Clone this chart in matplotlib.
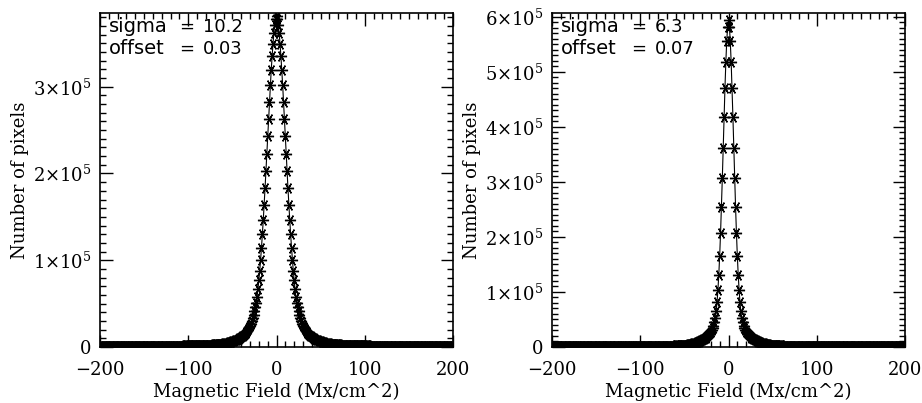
import numpy as np
import matplotlib
matplotlib.use("Agg")
import matplotlib.pyplot as plt
from matplotlib.ticker import MultipleLocator, FuncFormatter

# ---------------- data (counts in thousands of pixels) ----------------
field = np.arange(-200, 201)          # Magnetic field bins (Mx/cm^2)

# panel 1: counts for |B| = 0 .. 200
left_half = [
    382.0, 377.8, 371.0, 361.5, 349.5, 335.3, 319.2, 301.5, 282.6, 262.9,
    242.7, 222.4, 202.4, 182.8, 164.2, 146.3, 129.8, 114.5, 100.6, 87.9,
    76.7, 66.7, 58.0, 51.0, 46.0, 41.0, 37.0, 33.0, 30.0, 27.0,
    24.5, 22.5, 20.5, 19.0, 17.5, 16.2, 15.0, 14.0, 13.0, 12.2,
    11.4, 10.7, 10.1, 9.5, 9.0, 8.5, 8.0, 7.6, 7.2, 6.8,
    6.5, 6.1, 5.8, 5.5, 5.2, 5.0, 4.7, 4.5, 4.3, 4.1,
    3.9, 3.8, 3.7, 3.6, 3.5, 3.4, 3.3, 3.2, 3.1, 3.0,
    2.9, 2.9, 2.8, 2.8, 2.7, 2.7, 2.6, 2.6, 2.5, 2.5,
    2.4, 2.4, 2.4, 2.3, 2.3, 2.3, 2.2, 2.2, 2.2, 2.1,
    2.1, 2.1, 2.0, 2.0, 2.0, 2.0, 1.9, 1.9, 1.9, 1.9,
    1.8, 1.8, 1.8, 1.8, 1.8, 1.7, 1.7, 1.7, 1.7, 1.7,
    1.7, 1.7, 1.7, 1.6, 1.6, 1.6, 1.6, 1.6, 1.6, 1.6,
    1.6, 1.6, 1.5, 1.5, 1.5, 1.5, 1.5, 1.5, 1.5, 1.5,
    1.5, 1.5, 1.4, 1.4, 1.4, 1.4, 1.4, 1.4, 1.4, 1.4,
    1.4, 1.4, 1.4, 1.3, 1.3, 1.3, 1.3, 1.3, 1.3, 1.3,
    1.3, 1.3, 1.3, 1.3, 1.3, 1.2, 1.2, 1.2, 1.2, 1.2,
    1.2, 1.2, 1.2, 1.2, 1.2, 1.2, 1.2, 1.2, 1.2, 1.2,
    1.1, 1.1, 1.1, 1.1, 1.1, 1.1, 1.1, 1.1, 1.1, 1.1,
    1.1, 1.1, 1.1, 1.1, 1.1, 1.0, 1.0, 1.0, 1.0, 1.0,
    1.0, 1.0, 1.0, 1.0, 1.0, 1.0, 1.0, 1.0, 1.0, 1.0,
    1.0,
]

# panel 2: counts for |B| = 0 .. 200
right_half = [
    594.0, 581.9, 556.1, 518.3, 471.2, 418.2, 362.4, 306.9, 254.7, 207.3,
    166.0, 131.4, 103.5, 81.4, 64.7, 52.0, 45.0, 39.0, 34.0, 30.5,
    27.5, 25.0, 23.0, 21.3, 19.8, 18.4, 17.1, 15.9, 14.8, 13.8,
    12.9, 11.9, 11.1, 10.4, 9.7, 9.0, 8.4, 7.9, 7.4, 7.0,
    6.6, 6.2, 5.8, 5.4, 5.1, 4.8, 4.5, 4.2, 4.0, 3.7,
    3.5, 3.4, 3.3, 3.2, 3.1, 3.0, 2.95, 2.9, 2.85, 2.8,
    2.75, 2.7, 2.65, 2.6, 2.55, 2.5, 2.45, 2.4, 2.35, 2.3,
    2.3, 2.25, 2.2, 2.2, 2.15, 2.1, 2.1, 2.05, 2.0, 2.0,
    2.0, 1.95, 1.95, 1.9, 1.9, 1.9, 1.85, 1.85, 1.8, 1.8,
    1.8, 1.75, 1.75, 1.75, 1.7, 1.7, 1.7, 1.7, 1.65, 1.65,
    1.6, 1.6, 1.6, 1.6, 1.6, 1.6, 1.6, 1.6, 1.6, 1.6,
    1.6, 1.6, 1.6, 1.6, 1.6, 1.5, 1.5, 1.5, 1.5, 1.5,
    1.5, 1.5, 1.5, 1.5, 1.5, 1.5, 1.5, 1.5, 1.5, 1.5,
    1.5, 1.5, 1.5, 1.5, 1.5, 1.4, 1.4, 1.4, 1.4, 1.4,
    1.4, 1.4, 1.4, 1.4, 1.4, 1.4, 1.4, 1.4, 1.4, 1.4,
    1.4, 1.4, 1.4, 1.4, 1.4, 1.4, 1.4, 1.4, 1.4, 1.4,
    1.3, 1.3, 1.3, 1.3, 1.3, 1.3, 1.3, 1.3, 1.3, 1.3,
    1.3, 1.3, 1.3, 1.3, 1.3, 1.3, 1.3, 1.3, 1.3, 1.3,
    1.3, 1.3, 1.3, 1.3, 1.3, 1.2, 1.2, 1.2, 1.2, 1.2,
    1.2, 1.2, 1.2, 1.2, 1.2, 1.2, 1.2, 1.2, 1.2, 1.2,
    1.2,
]

sigmas = ["10.2", "6.3"]
offsets = ["0.03", "0.07"]
y_tops = [3.85e5, 6.07e5]

x_label = "Magnetic Field (Mx/cm^2)"
y_label = "Number of pixels"


def full_profile(half):
    half = np.asarray(half) * 1e3
    return np.concatenate([half[:0:-1], half])


counts = [full_profile(left_half), full_profile(right_half)]

# ---------------- figure ----------------
W, H = 922, 403
fig = plt.figure(figsize=(W / 100, H / 100), dpi=100)
plt.rcParams["mathtext.fontset"] = "dejavuserif"

serif = "DejaVu Serif"
sans = "DejaVu Sans"
FS = 13
AFS = 13

ax_px = [(100, 13, 453, 347), (552, 13, 905, 347)]


def yfmt(v, pos):
    n = int(round(v / 1e5))
    if n == 0:
        return "0"
    return r"$%d{\times}10^{5}$" % n


def xfmt(v, pos):
    return ("\u2212%d" % abs(v)) if v < 0 else "%d" % v


for i in range(2):
    x0, y0, x1, y1 = ax_px[i]
    aw, ah = x1 - x0, y1 - y0
    ax = fig.add_axes([x0 / W, 1 - y1 / H, aw / W, ah / H])
    ax.plot(field, counts[i], color="black", lw=0.8,
            marker=(6, 2, 90), markersize=8, markeredgewidth=1.0,
            markeredgecolor="black", clip_on=True)
    ax.set_xlim(-200, 200)
    ax.set_ylim(0, y_tops[i])
    ax.xaxis.set_major_locator(MultipleLocator(100))
    ax.xaxis.set_minor_locator(MultipleLocator(10))
    ax.yaxis.set_major_locator(MultipleLocator(1e5))
    ax.yaxis.set_minor_locator(MultipleLocator(1e4))
    ax.yaxis.set_major_formatter(FuncFormatter(yfmt))
    ax.xaxis.set_major_formatter(FuncFormatter(xfmt))
    ax.tick_params(which="both", direction="in", top=True, right=True,
                   width=1.0, colors="black")
    ax.tick_params(which="major", length=9, labelsize=FS)
    ax.tick_params(axis="x", which="major", pad=10)
    ax.tick_params(axis="y", which="major", pad=6)
    ax.tick_params(which="minor", length=4.5)
    for lab in ax.get_xticklabels() + ax.get_yticklabels():
        lab.set_family(serif)
    for s in ax.spines.values():
        s.set_linewidth(1.2)
    ax.set_xlabel(x_label, family=serif, fontsize=FS, labelpad=3)
    ax.set_ylabel(y_label, family=serif, fontsize=FS, labelpad=3)

    # annotation: name, "=" sign and value placed like the original
    for row, (name, val) in enumerate([("sigma", sigmas[i]),
                                       ("offset", offsets[i])]):
        yb = 1 - (32 + 22 * row - y0) / ah
        ax.text(9 / aw, yb, name, transform=ax.transAxes, va="baseline",
                ha="left", family=sans, fontsize=AFS + 1)
        ax.text(79 / aw, yb, "=", transform=ax.transAxes, va="baseline",
                ha="left", family=sans, fontsize=AFS)
        ax.text(103 / aw, yb, val, transform=ax.transAxes, va="baseline",
                ha="left", family=sans, fontsize=AFS)

fig.savefig("out.png", dpi=100)
